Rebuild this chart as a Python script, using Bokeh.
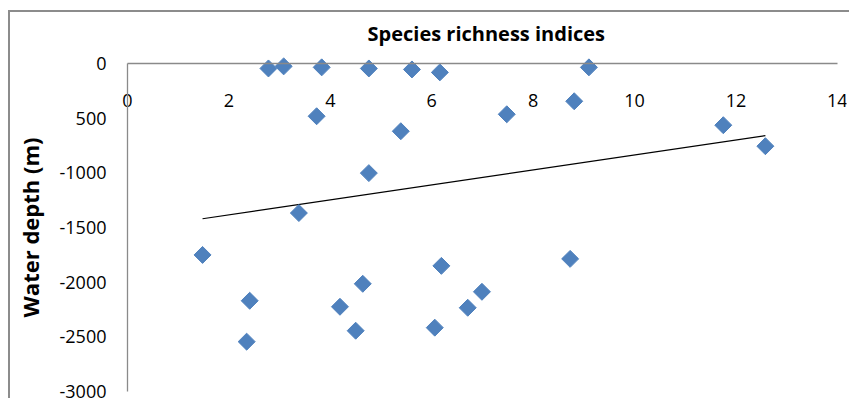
import numpy as np
from bokeh.plotting import figure
from bokeh.models import Range1d, FixedTicker
from bokeh.embed import file_html
from bokeh.resources import INLINE

# Data
richness = [2.78, 3.08, 3.83, 4.76, 5.61, 6.16, 9.10, 3.73, 5.39, 7.48, 8.81, 11.75, 12.58,
            4.76, 3.38, 1.48, 6.19, 8.73, 4.64, 6.99, 2.41, 4.19, 6.71, 4.50, 6.06, 2.35]
depth = [-46, -27, -36, -46, -55, -82, -36, -483, -620, -465, -346, -565, -757,
         -1003, -1368, -1751, -1851, -1787, -2015, -2088, -2170, -2225, -2234, -2444, -2416, -2544]

x_ticks = [0, 2, 4, 6, 8, 10, 12, 14]
y_ticks = [0, -500, -1000, -1500, -2000, -2500, -3000]
y_tick_labels = ["0", "500", "-1000", "-1500", "-2000", "-2500", "-3000"]

title_text = "Species richness indices"
y_label = "Water depth (m)"

# Linear trendline (least squares, as the spreadsheet does)
slope, intercept = np.polyfit(richness, depth, 1)
trend_x = [min(richness), max(richness)]
trend_y = [slope * x + intercept for x in trend_x]

FONT = "Open Sans"

p = figure(width=841, height=388, output_backend="svg", toolbar_location=None,
           x_range=Range1d(-2.268, 14.18), y_range=Range1d(-3082, 109),
           min_border_left=2, min_border_right=5, min_border_top=38, min_border_bottom=0,
           title=title_text)

p.title.align = "left"
p.title.offset = 355
p.title.standoff = 10
p.title.text_font = FONT
p.title.text_font_size = "20px"
p.title.text_font_style = "bold"
p.title.text_color = "black"

p.outline_line_color = None
p.xgrid.visible = False
p.ygrid.visible = False
p.background_fill_color = "white"
p.border_fill_color = "white"

# x axis crosses at y = 0 (top of the data area), y axis at x = 0
xa = p.xaxis[0]
xa.fixed_location = 0
xa.bounds = (0, 14)
xa.ticker = FixedTicker(ticks=x_ticks)
xa.axis_line_color = "#8a8a8a"
xa.axis_line_width = 1.3
xa.major_tick_in = 0
xa.major_tick_out = 0
xa.minor_tick_in = 0
xa.minor_tick_out = 0
xa.major_label_standoff = 31
xa.major_label_text_font = FONT
xa.major_label_text_font_size = "18px"
xa.major_label_text_color = "black"

ya = p.yaxis[0]
ya.fixed_location = 0
ya.ticker = FixedTicker(ticks=y_ticks)
ya.major_label_overrides = {t: l for t, l in zip(y_ticks, y_tick_labels)}
ya.bounds = (-3000, 0)
ya.axis_line_color = "#8a8a8a"
ya.axis_line_width = 1.3
ya.major_tick_in = 0
ya.major_tick_out = 0
ya.minor_tick_in = 0
ya.minor_tick_out = 0
ya.major_label_standoff = 21
ya.major_label_text_font = FONT
ya.major_label_text_font_size = "18px"
ya.major_label_text_color = "black"
ya.axis_label = y_label
ya.axis_label_text_font = FONT
ya.axis_label_text_font_size = "22px"
ya.axis_label_text_font_style = "bold"
ya.axis_label_text_color = "black"
ya.axis_label_standoff = 12

p.line(trend_x, trend_y, line_color="black", line_width=1.1)
p.scatter(richness, depth, marker="square", size=12, angle=np.pi / 4,
          fill_color="#4F81BD", line_color="#4F81BD")

p.styles = {"border-left": "2px solid #8c8c8c", "border-top": "2px solid #8c8c8c",
            "margin-left": "8px", "margin-top": "10px"}

open("out.html", "w").write(file_html(p, INLINE))
